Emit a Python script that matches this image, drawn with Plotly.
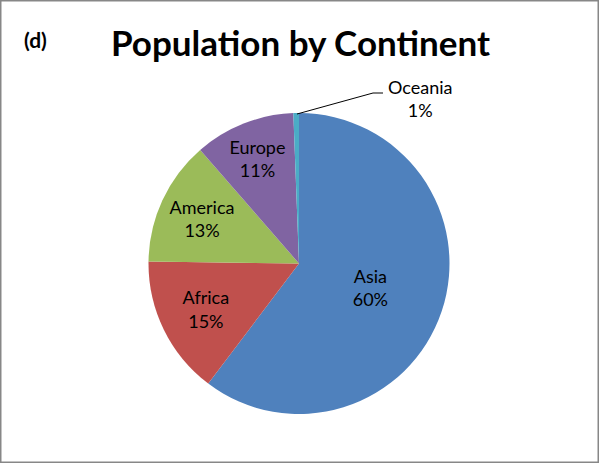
import plotly.graph_objects as go

continents = ["Asia", "Africa", "America", "Europe", "Oceania"]
shares = [60.3, 14.9, 13.4, 10.8, 0.6]
colors = ["#4F81BD", "#C0504D", "#9BBB59", "#8064A2", "#4BACC6"]
text_modes = ["%{label}<br>%{percent:.0%}"] * 4 + [""]

W, H = 599, 463
cx, cy, r = 299, 263.5, 150.5
FONT = "Lato, Open Sans, sans-serif"

fig = go.Figure(go.Pie(
    labels=continents,
    values=shares,
    sort=False,
    direction="clockwise",
    rotation=0,
    marker=dict(colors=colors, line=dict(width=0)),
    textposition="inside",
    texttemplate=text_modes,
    insidetextorientation="horizontal",
    textfont=dict(family=FONT, size=18, color="black"),
    showlegend=False,
    hoverinfo="label+percent",
    domain=dict(x=[(cx - r) / W, (cx + r) / W], y=[(H - cy - r) / H, (H - cy + r) / H]),
))

oce_pct = round(shares[4] / sum(shares) * 100)

fig.update_layout(
    width=W, height=H,
    margin=dict(l=0, r=0, t=0, b=0),
    paper_bgcolor="white",
    uniformtext=dict(minsize=18, mode="show"),
    annotations=[
        dict(text="<b>Population by Continent</b>", x=300 / W, y=1 - 42 / H, xref="paper", yref="paper",
             xanchor="center", yanchor="middle",
             showarrow=False, font=dict(family=FONT, size=35, color="black")),
        dict(text="<b>(d)</b>", x=35 / W, y=1 - 40 / H, xref="paper", yref="paper",
             xanchor="center", yanchor="middle",
             showarrow=False, font=dict(family=FONT, size=21, color="black")),
        dict(text=f"{continents[4]}<br>{oce_pct}%", x=420 / W, y=1 - 98 / H, xref="paper", yref="paper",
             xanchor="center", yanchor="middle",
             showarrow=False, font=dict(family=FONT, size=18, color="black")),
    ],
    shapes=[
        dict(type="rect", xref="paper", yref="paper", x0=0, y0=0, x1=1, y1=1,
             line=dict(color="#878787", width=3)),
        dict(type="path", xref="paper", yref="paper",
             path=f"M {297/W},{1-114/H} L {373/W},{1-93/H} L {383/W},{1-93/H}",
             line=dict(color="black", width=1)),
    ],
)

fig.write_html("out.html", config={"displayModeBar": False},
               post_script="document.body.style.margin='0';document.body.style.overflow='hidden';")
